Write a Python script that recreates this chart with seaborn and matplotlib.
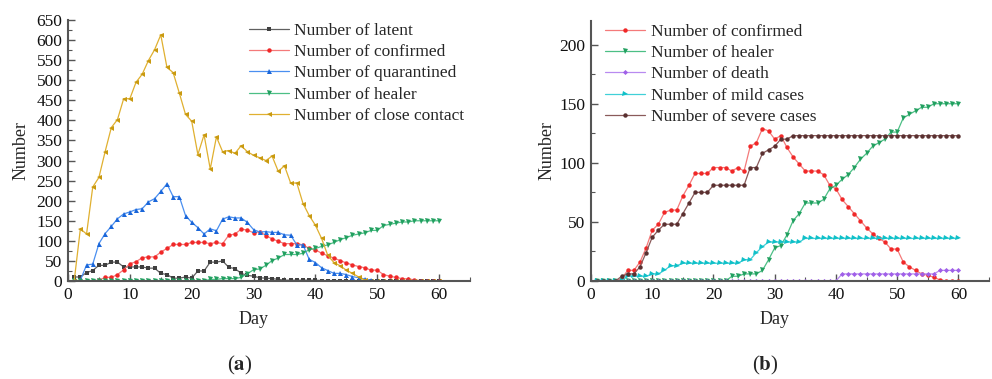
import numpy as np
import pandas as pd
import matplotlib
matplotlib.use("Agg")
import matplotlib.pyplot as plt
import seaborn as sns
from matplotlib.ticker import MultipleLocator

days = list(range(1, 61))

latent = [10, 10, 21, 26, 39, 39, 47, 47, 35, 35, 35, 35, 32, 32, 19, 16, 7, 7, 10, 7,
          25, 25, 47, 47, 50, 34, 31, 19, 14, 12, 8, 7, 6, 4, 2, 2, 2, 2, 2, 2,
          1, 1, 1, 1, 1, 1, 1, 0, 0, 0, 0, 0, 0, 0, 0, 0, 0, 0, 0, 0]
confirmed = [0, 0, 0, 0, 2, 9, 9, 16, 28, 43, 48, 58, 60, 60, 72, 81, 91, 91, 91, 96,
             96, 96, 93, 96, 93, 114, 117, 129, 127, 120, 123, 113, 105, 99, 93, 93, 93, 90, 81, 78,
             69, 63, 57, 51, 45, 40, 36, 33, 27, 27, 16, 12, 9, 6, 5, 3, 1, 0, 0, 0]
quarantined = [0, 2, 40, 42, 93, 118, 136, 155, 167, 172, 178, 180, 197, 205, 223, 242, 210, 210, 163, 146,
               133, 117, 130, 125, 154, 160, 157, 157, 146, 128, 122, 123, 121, 121, 115, 114, 90, 90, 54, 46,
               33, 26, 19, 19, 16, 11, 8, 5, 2, 0, 0, 0, 0, 0, 0, 0, 0, 0, 0, 0]
healer = [0, 0, 0, 0, 0, 0, 0, 0, 0, 0, 0, 0, 0, 0, 0, 0, 0, 0, 0, 0,
          0, 0, 4, 4, 6, 6, 6, 9, 18, 28, 30, 39, 51, 57, 66, 66, 66, 69, 78, 81,
          86, 90, 96, 103, 108, 114, 117, 120, 126, 126, 138, 141, 144, 147, 147, 150, 150, 150, 150, 150]
close_contact = [0, 130, 117, 234, 258, 322, 382, 402, 454, 454, 495, 515, 549, 576, 613, 532, 519, 468, 415, 398,
                 315, 364, 279, 359, 322, 325, 318, 337, 322, 313, 307, 300, 311, 273, 287, 244, 244, 193, 163, 139,
                 106, 64, 46, 38, 27, 19, 10, 2, 0, 0, 0, 0, 0, 0, 0, 0, 0, 0, 0, 0]
death = [0] * 40 + [6] * 16 + [9] * 4
mild = [0, 0, 0, 0, 0, 4, 4, 4, 4, 6, 6, 9, 13, 13, 15, 15, 15, 15, 15, 15,
        15, 15, 15, 15, 18, 18, 24, 29, 33, 33, 33, 33, 33, 33, 36, 36, 36, 36, 36, 36,
        36, 36, 36, 36, 36, 36, 36, 36, 36, 36, 36, 36, 36, 36, 36, 36, 36, 36, 36, 36]
severe = [0, 0, 0, 0, 4, 6, 6, 12, 24, 37, 43, 48, 48, 48, 57, 66, 75, 75, 75, 81,
          81, 81, 81, 81, 81, 96, 96, 108, 111, 114, 120, 120] + [123] * 28

yticks_a = list(range(0, 651, 50))
yticks_b = list(range(0, 201, 50))
xticks = list(range(0, 61, 10))

sns.set_theme(style="ticks")
plt.rcParams['font.family'] = ['Liberation Serif', 'DejaVu Serif']
plt.rcParams['mathtext.fontset'] = 'stix'

fig = plt.figure(figsize=(9.92, 3.79), dpi=100)
axa = fig.add_axes([68/992, 1-281/379, 402/992, 261/379])
axb = fig.add_axes([591/992, 1-281/379, 398/992, 260/379])

def draw(ax, y, label, color, lcolor, marker, ms=3.2):
    sns.lineplot(x=days, y=y, ax=ax, color=lcolor, linewidth=0.9, marker=marker,
                 markersize=ms, markerfacecolor=color, markeredgecolor=color,
                 markeredgewidth=0, label=label)

draw(axa, latent, "Number of latent", "#404040", "#606060", "s", 3.0)
draw(axa, confirmed, "Number of confirmed", "#f02828", "#f47a7a", "o")
draw(axa, quarantined, "Number of quarantined", "#1a66d9", "#4a8ff0", "^", 3.6)
draw(axa, healer, "Number of healer", "#22a060", "#4cbf85", "v", 3.6)
draw(axa, close_contact, "Number of close contact", "#c99a10", "#e0b030", "<", 3.6)

draw(axb, confirmed, "Number of confirmed", "#f02828", "#f47a7a", "o")
draw(axb, healer, "Number of healer", "#22a060", "#4cbf85", "v", 3.6)
draw(axb, death, "Number of death", "#a060e8", "#b88af0", "D", 2.6)
draw(axb, mild, "Number of mild cases", "#10c0c8", "#40d0d8", ">", 3.6)
draw(axb, severe, "Number of severe cases", "#5a3030", "#8a5a5a", "o")

for ax, yt, ylim in [(axa, yticks_a, 650), (axb, yticks_b, 220)]:
    ax.set_xlim(0, 65)
    ax.set_ylim(0, ylim)
    ax.set_xticks(xticks)
    ax.set_yticks(yt)
    ax.xaxis.set_minor_locator(MultipleLocator(5))
    ax.yaxis.set_minor_locator(MultipleLocator(25))
    for s in ['top', 'right']:
        ax.spines[s].set_visible(False)
    for s in ['left', 'bottom']:
        ax.spines[s].set_color('#555555')
        ax.spines[s].set_linewidth(1.5)
    ax.tick_params(which='major', direction='in', length=5, width=1.0, color='#555555',
                   labelsize=12.5, labelcolor='#111111', pad=4)
    ax.tick_params(which='minor', direction='in', length=3, width=0.8, color='#555555')
    ax.set_xlabel("Day", fontsize=13)
    ax.set_ylabel("Number", fontsize=13)
    ax.xaxis.set_label_coords(30/65, -0.115)

axa.yaxis.set_label_coords(-0.095, 0.5)
axb.yaxis.set_label_coords(-0.09, 0.5)

axa.legend(loc='upper right', bbox_to_anchor=(1.025, 1.05), frameon=False, fontsize=12.5,
           handlelength=2.3, labelspacing=0.3, handletextpad=0.3)
axb.legend(loc='upper left', bbox_to_anchor=(-0.003, 1.05), frameon=False, fontsize=12.5,
           handlelength=2.3, labelspacing=0.3, handletextpad=0.3)

fig.text(240/992, 1-365/379, r"($\mathbf{a}$)", ha='center', va='center', fontsize=15)
fig.text(765/992, 1-365/379, r"($\mathbf{b}$)", ha='center', va='center', fontsize=15)

fig.savefig("out.png", dpi=100)
